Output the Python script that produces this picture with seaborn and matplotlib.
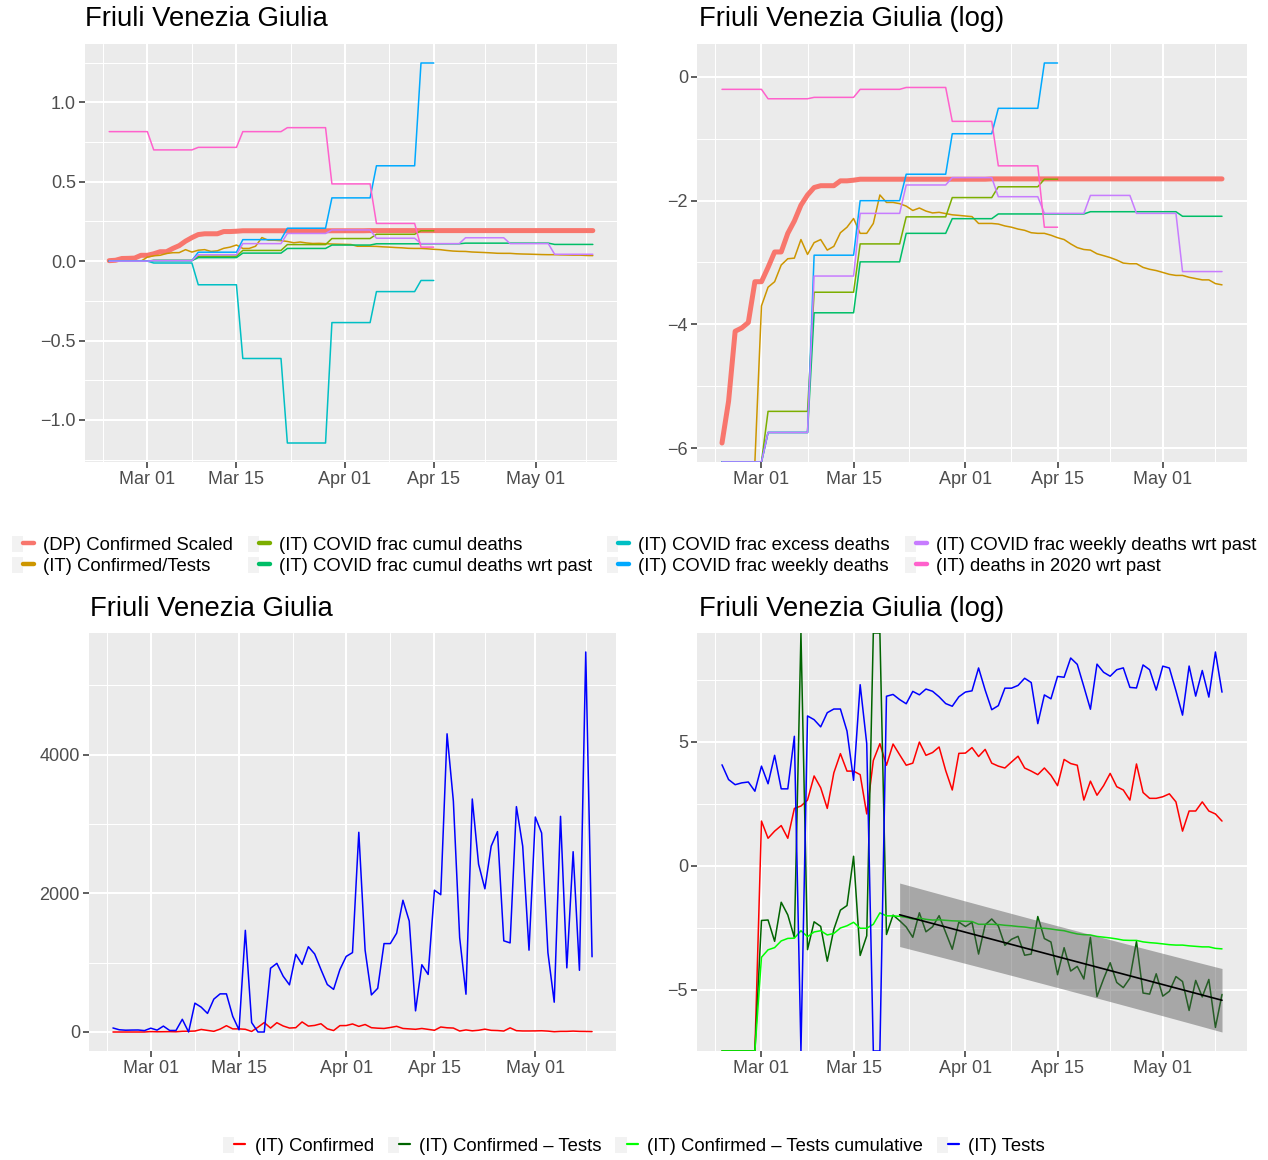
import numpy as np
import pandas as pd
import matplotlib
matplotlib.use("Agg")
import matplotlib.pyplot as plt
import matplotlib.dates as mdates
import seaborn as sns
from matplotlib.lines import Line2D
from matplotlib.patches import Patch
from matplotlib.legend_handler import HandlerTuple
from matplotlib.ticker import FixedLocator, FuncFormatter

# ------------------------------------------------------------------ data
dates = pd.date_range("2020-02-24", "2020-05-10", freq="D")   # 77 days

# top panels (fractions, linear scale)
confirmed_scaled = ([0.0027, 0.0053, 0.0164, 0.0173, 0.0189, 0.0365, 0.0365, 0.046, 0.059,
                     0.059, 0.0797, 0.0973, 0.1256, 0.148, 0.167, 0.172, 0.172, 0.172, 0.186,
                     0.186, 0.188] + [0.191] * 20 + [0.192] * 36)
conf_tests_cum = ([0, 0, 0, 0, 0, 0,
                   0.0247, 0.0334, 0.0365, 0.0478, 0.0529, 0.0534, 0.0721, 0.0567, 0.0686,
                   0.0721, 0.0608, 0.0646, 0.0805, 0.0880, 0.1013, 0.0797, 0.0797, 0.0935,
                   0.1481, 0.1313, 0.1313, 0.1287, 0.1237, 0.1153, 0.1200, 0.1142, 0.1108,
                   0.1119, 0.1097, 0.1075, 0.1065, 0.1054, 0.1044, 0.0935, 0.0935, 0.0935,
                   0.0926, 0.0898, 0.0880, 0.0854, 0.0837, 0.0805, 0.0797, 0.0797, 0.0773,
                   0.0743, 0.0721, 0.0672, 0.0633, 0.0614, 0.0608, 0.0573, 0.0556, 0.0539,
                   0.0518, 0.0493, 0.0488, 0.0488, 0.0460, 0.0446, 0.0437, 0.0424, 0.0411,
                   0.0404, 0.0404, 0.0392, 0.0384, 0.0376, 0.0376, 0.0354, 0.0347])

# weekly series (one value per week; last short week ends on Apr 15)
week_len_short = [7, 7, 7, 7, 7, 7, 7, 3]
week_len_full = [7] * 11
cumul_deaths = [0, 0.0045, 0.0308, 0.0672, 0.104, 0.142, 0.169, 0.191]
cumul_deaths_wrt_past = [0, 0.0032, 0.0221, 0.0503, 0.0797, 0.101, 0.109, 0.109, 0.113, 0.113, 0.105]
excess_deaths = [0, -0.012, -0.149, -0.613, -1.145, -0.387, -0.192, -0.122]
weekly_deaths = [0, 0.0032, 0.056, 0.135, 0.207, 0.398, 0.60, 1.247]
weekly_deaths_wrt_past = [0, 0.0032, 0.040, 0.110, 0.174, 0.196, 0.144, 0.110, 0.147, 0.110, 0.043]
deaths_2020_wrt_past = [0.815, 0.70, 0.716, 0.815, 0.84, 0.486, 0.237, 0.088]

# bottom panels (daily counts)
tests = [58, 32, 26, 28, 29, 20, 55, 27, 85, 22, 22, 183, 0, 416, 358, 268, 474, 550, 550, 226,
         31, 1466, 136, 0, 0, 920, 990, 805, 680, 1120, 975, 1230, 1125, 900, 685, 615, 900,
         1090, 1145, 2880, 1180, 535, 630, 1275, 1275, 1425, 1900, 1600, 305, 970, 830, 2045,
         1980, 4300, 3330, 1360, 545, 3360, 2420, 2065, 2680, 2890, 1315, 1285, 3250, 2680,
         1180, 3100, 2870, 1145, 430, 3110, 925, 2600, 890, 5480, 1085]
confirmed = [0, 0, 0, 0, 0, 0, 6, 3, 4, 5, 3, 10, 11, 14, 37, 23, 10, 42, 91, 45, 45, 39, 8, 69,
             136, 57, 134, 87, 57, 62, 145, 85, 95, 119, 46, 21, 92, 93, 116, 81, 108, 62, 55,
             51, 65, 82, 51, 45, 39, 51, 38, 25, 72, 61, 57, 14, 30, 17, 25, 41, 24, 21, 14, 60,
             19, 15, 15, 16, 18, 13, 4, 9, 9, 13, 9, 8, 6]
fit_start = "2020-03-22"

top_names = ["(DP) Confirmed Scaled", "(IT) Confirmed/Tests", "(IT) COVID frac cumul deaths",
             "(IT) COVID frac cumul deaths wrt past", "(IT) COVID frac excess deaths",
             "(IT) COVID frac weekly deaths", "(IT) COVID frac weekly deaths wrt past",
             "(IT) deaths in 2020 wrt past"]
top_colors = ["#F8766D", "#CD9600", "#7CAE00", "#00BE67", "#00BFC4", "#00A9FF", "#C77CFF", "#FF61CC"]
bot_names = ["(IT) Confirmed", "(IT) Confirmed \u2013 Tests", "(IT) Confirmed \u2013 Tests cumulative", "(IT) Tests"]
bot_colors = ["#FF0000", "#006400", "#00FF00", "#0000FF"]

top_values = [np.array(confirmed_scaled, float), np.array(conf_tests_cum, float),
              np.repeat(cumul_deaths, week_len_short), np.repeat(cumul_deaths_wrt_past, week_len_full),
              np.repeat(excess_deaths, week_len_short), np.repeat(weekly_deaths, week_len_short),
              np.repeat(weekly_deaths_wrt_past, week_len_full), np.repeat(deaths_2020_wrt_past, week_len_short)]
top_lw = [3.6] + [1.1] * 7

# ------------------------------------------------------------------ style
sns.set_theme(style="darkgrid")
plt.rcParams["font.family"] = ["Liberation Sans", "DejaVu Sans"]
plt.rcParams["axes.unicode_minus"] = True
plt.rcParams["text.color"] = "black"

W, H = 1268, 1160
fig = plt.figure(figsize=(W / 100, H / 100), dpi=100)
fig.patch.set_facecolor("white")


def add_ax(l, t, r, b):
    return fig.add_axes([l / W, 1 - b / H, (r - l) / W, (b - t) / H])


major_dates = pd.to_datetime(["2020-03-01", "2020-03-15", "2020-04-01", "2020-04-15", "2020-05-01"])
minor_dates = pd.to_datetime(["2020-02-23 00:00", "2020-03-08 00:00", "2020-03-23 12:00",
                              "2020-04-08 00:00", "2020-04-23 00:00", "2020-05-09 00:00"],
                             format="%Y-%m-%d %H:%M")
span = (dates[-1] - dates[0]) * 0.05
xlim = (mdates.date2num(dates[0] - span), mdates.date2num(dates[-1] + span))


def minus(s):
    return s.replace("-", "\u2212")


def style(ax, yticks, yminor, fmt):
    ax.set_facecolor("#EBEBEB")
    for s in ax.spines.values():
        s.set_visible(False)
    ax.set_xlim(*xlim)
    ax.xaxis.set_major_locator(FixedLocator(mdates.date2num(major_dates)))
    ax.xaxis.set_major_formatter(mdates.DateFormatter("%b %d"))
    ax.xaxis.set_minor_locator(FixedLocator(mdates.date2num(minor_dates)))
    ax.yaxis.set_major_locator(FixedLocator(yticks))
    ax.yaxis.set_minor_locator(FixedLocator(yminor))
    ax.yaxis.set_major_formatter(FuncFormatter(lambda v, p: minus(fmt(v))))
    ax.grid(which="major", color="white", lw=1.45)
    ax.grid(which="minor", color="white", lw=0.75)
    ax.set_axisbelow(True)
    ax.tick_params(which="major", length=4, width=1.1, color="#333333", labelcolor="#4D4D4D",
                   labelsize=13, pad=2.5, bottom=True, left=True)
    ax.tick_params(which="minor", length=0)
    ax.set_xlabel("")
    ax.set_ylabel("")


def expand(lo, hi):
    d = (hi - lo) * 0.05
    return lo - d, hi + d


# ------------------------------------------------------------------ top-left (linear)
ax1 = add_ax(85, 44, 617, 462)
for v, c, lw in zip(top_values, top_colors, top_lw):
    sns.lineplot(x=dates[:len(v)], y=v, color=c, linewidth=lw, ax=ax1, estimator=None)
style(ax1, [-1.0, -0.5, 0.0, 0.5, 1.0], [-1.25, -0.75, -0.25, 0.25, 0.75, 1.25], lambda v: f"{v:.1f}")

# ------------------------------------------------------------------ top-right (log)
ax2 = add_ax(697, 44, 1247, 462)
with np.errstate(divide="ignore", invalid="ignore"):
    top_logs = [np.log(v) for v in top_values]
fin = np.concatenate([l[np.isfinite(l)] for l in top_logs])
lo2, hi2 = expand(fin.min(), fin.max())
for l, c, lw in zip(top_logs, top_colors, top_lw):
    l = np.where(np.isneginf(l), lo2, l)
    d = dates[:len(l)]
    m = ~np.isnan(l)
    sns.lineplot(x=d[m], y=l[m], color=c, linewidth=lw, ax=ax2, estimator=None)
style(ax2, [-6, -4, -2, 0], [-5, -3, -1], lambda v: f"{v:.0f}")
ax2.set_ylim(lo2, hi2)

# ------------------------------------------------------------------ bottom-left (counts)
ax3 = add_ax(89, 633, 616, 1051)
sns.lineplot(x=dates, y=np.array(confirmed, float), color=bot_colors[0], linewidth=1.1, ax=ax3, estimator=None)
sns.lineplot(x=dates, y=np.array(tests, float), color=bot_colors[3], linewidth=1.1, ax=ax3, estimator=None)
style(ax3, [0, 2000, 4000], [1000, 3000, 5000], lambda v: f"{v:.0f}")

# ------------------------------------------------------------------ bottom-right (log)
ax4 = add_ax(697, 633, 1247, 1051)
C = np.array(confirmed, float)
T = np.array(tests, float)
with np.errstate(divide="ignore", invalid="ignore"):
    logC = np.log(C)
    logT = np.log(T)
    diff = logC - logT
    cum = np.log(np.array(conf_tests_cum, float))
fit_mask = (dates >= pd.Timestamp(fit_start)) & np.isfinite(diff)
xf = np.arange(len(dates))[fit_mask].astype(float)
yf = diff[fit_mask]
slope, icpt = np.polyfit(xf, yf, 1)
pred = icpt + slope * xf
n = len(xf)
s = np.sqrt(np.sum((yf - pred) ** 2) / (n - 2))
tcrit = 2.0106
half = tcrit * s * np.sqrt(1 + 1 / n + (xf - xf.mean()) ** 2 / np.sum((xf - xf.mean()) ** 2))

series_b = [logC, diff, cum, logT]
fin = np.concatenate([a[np.isfinite(a)] for a in series_b] + [pred - half, pred + half])
lo4, hi4 = expand(fin.min(), fin.max())
for a, c in zip(series_b, bot_colors):
    a = np.where(np.isneginf(a), lo4, np.where(np.isposinf(a), hi4, a))
    sns.lineplot(x=dates, y=a, color=c, linewidth=1.1, ax=ax4, estimator=None)
ax4.fill_between(dates[fit_mask], pred - half, pred + half, color="#555555", alpha=0.45, lw=0, zorder=3)
sns.lineplot(x=dates[fit_mask], y=pred, color="black", linewidth=1.2, ax=ax4, estimator=None, zorder=4)
style(ax4, [-5, 0, 5], [-7.5, -2.5, 2.5, 7.5], lambda v: f"{v:.0f}")
ax4.set_ylim(lo4, hi4)

# ------------------------------------------------------------------ titles
title_kw = dict(fontsize=19.8, va="baseline", ha="left", color="black")
fig.text(85 / W, 1 - 26 / H, "Friuli Venezia Giulia", **title_kw)
fig.text(699 / W, 1 - 26 / H, "Friuli Venezia Giulia (log)", **title_kw)
fig.text(89.5 / W, 1 - 616 / H, "Friuli Venezia Giulia", **title_kw)
fig.text(699 / W, 1 - 616 / H, "Friuli Venezia Giulia (log)", **title_kw)

# ------------------------------------------------------------------ legends
def key(c, lw):
    return (Patch(facecolor="#F2F2F2", edgecolor="none"), Line2D([0], [0], color=c, lw=lw))


leg1 = fig.legend([key(c, 3.2) for c in top_colors], top_names, ncol=4, loc="center",
                  bbox_to_anchor=(0.5, 1 - 555.5 / H), frameon=False, fontsize=13.3,
                  handler_map={tuple: HandlerTuple(ndivide=None, pad=0)},
                  handlelength=1.2, handleheight=1.0, handletextpad=0.5, columnspacing=0.8,
                  labelspacing=0.12, borderpad=0, labelcolor="black")
leg2 = fig.legend([key(c, 1.6) for c in bot_colors], bot_names, ncol=4, loc="center",
                  bbox_to_anchor=(0.5, 1 - 1146 / H), frameon=False, fontsize=13.3,
                  handler_map={tuple: HandlerTuple(ndivide=None, pad=0)},
                  handlelength=1.2, handleheight=1.0, handletextpad=0.5, columnspacing=0.75,
                  borderpad=0, labelcolor="black")

fig.savefig("out.png", dpi=100, facecolor="white")
